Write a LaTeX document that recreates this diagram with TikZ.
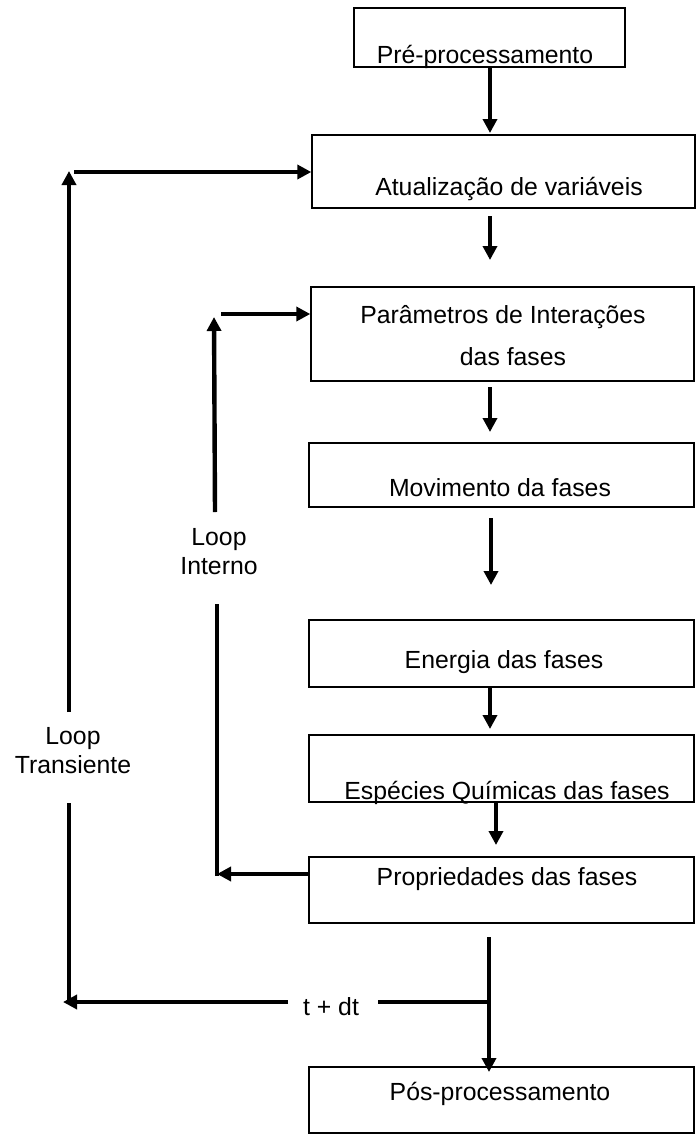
\documentclass[tikz,border=0pt]{standalone}
\usepackage{fontspec}
\setmainfont{Liberation Sans}
\usetikzlibrary{arrows.meta}
\begin{document}
\begin{tikzpicture}[x=0.5pt,y=-0.5pt,
  box/.style={draw, line width=0.7pt, inner sep=0pt, minimum width=192.5pt, minimum height=33.5pt},
  lbl/.style={anchor=base, inner sep=0pt, font=\fontsize{12.4}{14.5}\selectfont},
  flow/.style={line width=2.2pt, -{Triangle[length=7pt,width=7pt]}},
  seg/.style={line width=2.2pt}]
\useasboundingbox (0,0) rectangle (698,1135);

% boxes
\node[box, minimum width=135.5pt, minimum height=29.5pt] (pre) at (489.5,37.5) {};
\node[box, minimum width=191.5pt, minimum height=36.5pt] (atual) at (503.5,171.5) {};
\node[box, minimum width=191.5pt, minimum height=47pt] (param) at (502.5,334) {};
\node[box, minimum height=32pt] (mov) at (501.5,475) {};
\node[box] (energ) at (501.5,653.5) {};
\node[box] (espec) at (501.5,768.5) {};
\node[box, minimum height=33pt] (prop) at (501.5,890) {};
\node[box, minimum height=33pt] (pos) at (501.5,1100) {};

% texts
\node[lbl] (tpre) at (485,63) {Pré-processamento};
\node[lbl] (tatual) at (509,195) {Atualização de variáveis};
\node[lbl] (tparamA) at (503,323) {Parâmetros de Interações};
\node[lbl] (tparamB) at (513,365) {das fases};
\node[lbl] (tmov) at (500,496) {Movimento da fases};
\node[lbl] (tenerg) at (504,668) {Energia das fases};
\node[lbl] (tespec) at (507,799) {Espécies Químicas das fases};
\node[lbl] (tprop) at (507,885) {Propriedades das fases};
\node[lbl] (tpos) at (500,1100) {Pós-processamento};
\node[lbl] (ltA) at (73,744) {Loop};
\node[lbl] (ltB) at (73,773) {Transiente};
\node[lbl] (liA) at (219,545) {Loop};
\node[lbl] (liB) at (219,574) {Interno};
\node[lbl] (tdt) at (331,1015) {t + dt};

% coordinates for free ends
\coordinate (a2s) at (490,216);   \coordinate (a2e) at (490,260);
\coordinate (a3s) at (490,387);   \coordinate (a3e) at (490,432);
\coordinate (a4s) at (491,518);   \coordinate (a4e) at (491,585);
\coordinate (a5s) at (490,686);   \coordinate (a5e) at (490,729);
\coordinate (a6s) at (496,802);   \coordinate (a6e) at (496,845);
\coordinate (a7s) at (489,937);   \coordinate (a7e) at (489,1072);
\coordinate (j) at (489,1002);
\coordinate (jl) at (378,1002);
\coordinate (ol) at (288,1002);
\coordinate (ocorner) at (63,1002);
\coordinate (ovb) at (69,1004);
\coordinate (ovm) at (69,803);
\coordinate (ovu) at (69,712);
\coordinate (otip) at (69,171);
\coordinate (otop) at (74,172);
\coordinate (icorner) at (217,874);
\coordinate (ivl) at (217,604);
\coordinate (ivu) at (215,512);
\coordinate (itip) at (214,317);
\coordinate (itop) at (221,314);

% main chain
\draw[flow] (pre.south -| 490,0) -- (490,133);
\draw[flow] (a2s) -- (a2e);
\draw[flow] (a3s) -- (a3e);
\draw[flow] (a4s) -- (a4e);
\draw[flow] (a5s) -- (a5e);
\draw[flow] (a6s) -- (a6e);
\draw[flow] (a7s) -- (a7e);

% transient loop
\draw[seg] (j) -- (jl);
\draw[flow] (ol) -- (ocorner);
\draw[seg] (ovb) -- (ovm);
\draw[flow] (ovu) -- (otip);
\draw[flow] (otop) -- (otop -| atual.west);

% inner loop
\draw[flow] (icorner -| prop.west) -- (icorner);
\draw[seg] ([yshift=-1.1pt]icorner) -- (ivl);
\draw[flow] (ivu) -- (itip);
\draw[flow] (itop) -- (itop -| param.west);
\end{tikzpicture}
\end{document}
